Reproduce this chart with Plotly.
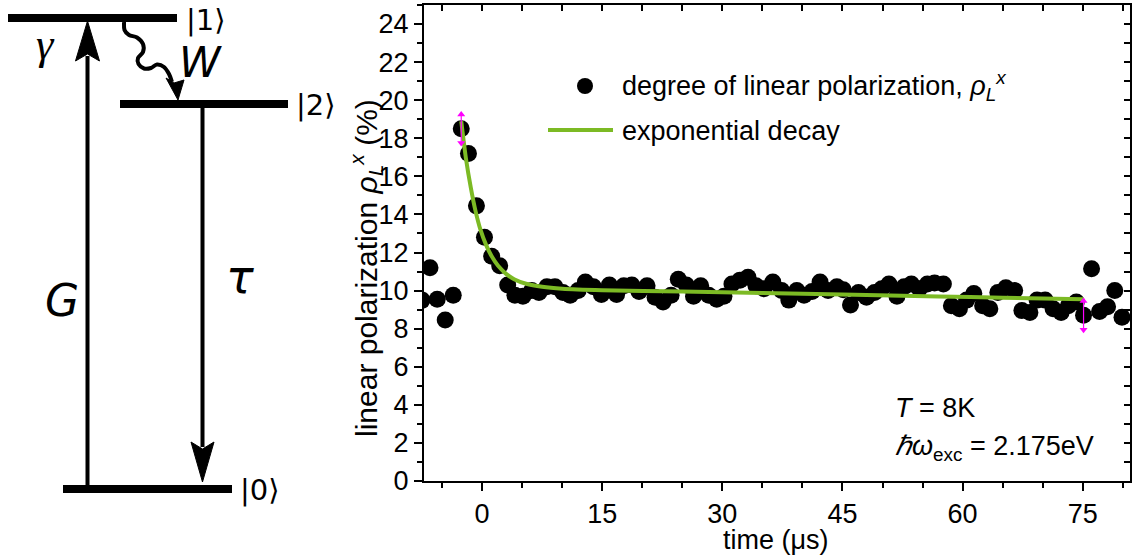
import plotly.graph_objects as go

# ---- measured data: degree of linear polarization vs. time ----
time_us = [-7.5, -6.5, -5.6, -4.6, -3.6, -2.6, -1.7, -0.7, 0.3, 1.2,
           2.2, 3.2, 4.1, 5.1, 6.2, 7.1, 8.1, 9.1, 10.1, 11.0,
           12.0, 12.9, 13.9, 14.9, 15.9, 16.8, 17.7, 18.7, 19.6, 20.6,
           21.6, 22.6, 23.6, 24.5, 25.5, 26.4, 27.3, 28.3, 29.3, 30.2,
           31.2, 32.2, 33.2, 34.2, 35.2, 36.3, 37.4, 38.3, 39.3, 40.2,
           41.2, 42.2, 43.2, 44.3, 45.1, 46.0, 47.0, 48.0, 49.0, 49.9,
           50.8, 51.8, 52.7, 53.6, 54.6, 55.6, 56.5, 57.6, 58.6, 59.6,
           60.5, 61.4, 62.5, 63.4, 64.4, 65.4, 66.5, 67.4, 68.4, 69.3,
           70.3, 71.3, 72.3, 73.2, 74.2, 75.1, 76.1, 77.1, 78.1, 79.0,
           79.9]
polarization = [9.5, 11.2, 9.55, 8.45, 9.75, 18.5, 17.2, 14.45, 12.8, 11.8,
                11.3, 10.3, 9.75, 9.7, 10.0, 9.9, 10.2, 10.2, 9.9, 9.75,
                10.0, 10.45, 10.2, 9.8, 10.3, 9.8, 10.25, 10.3, 9.95, 10.25,
                9.65, 9.4, 9.75, 10.6, 10.3, 9.7, 10.25, 9.75, 9.55, 9.7,
                10.35, 10.55, 10.7, 10.25, 10.1, 10.45, 10.0, 9.5, 10.0, 9.75,
                9.95, 10.45, 10.0, 10.2, 10.05, 9.25, 9.9, 9.65, 9.9, 10.1,
                10.35, 9.7, 10.2, 10.35, 10.1, 10.35, 10.4, 10.35, 9.2, 9.05,
                9.5, 9.85, 9.2, 9.05, 9.9, 10.15, 10.0, 8.95, 8.85, 9.5,
                9.5, 9.05, 8.85, 9.2, 9.4, 8.7, 11.15, 8.9, 9.15, 10.0,
                8.6]

# ---- fitted exponential decay ----
fit_time = [-2.6, -2.0, -1.4, -0.8, -0.2, 0.5, 1.2, 2.0, 3.0, 4.0,
            5.5, 7.5, 10.0, 15.0, 25.0, 35.0, 45.0, 57.0, 65.0, 75.1]
fit_value = [18.9, 16.9, 15.4, 14.15, 13.2, 12.4, 11.8, 11.3, 10.88, 10.6,
             10.36, 10.2, 10.1, 10.02, 9.95, 9.87, 9.8, 9.69, 9.63, 9.55]

# fit range (first and last point used in the fit)
range_time = [-2.6, 75.1]
range_value = [18.5, 8.7]

x_ticks = [0, 15, 30, 45, 60, 75]
y_ticks = [0, 2, 4, 6, 8, 10, 12, 14, 16, 18, 20, 22, 24]
x_range = [-7.25, 80.9]
y_range = [0, 25]

FIG_W, FIG_H = 1138, 559
FONT = "Liberation Sans, Arial, sans-serif"
FS = 27
GREEN = "#7cba24"
MAGENTA = "#ff00ff"


def fx(p):
    """pixel column -> paper x"""
    return p / FIG_W


def fy(p):
    """pixel row -> paper y"""
    return 1 - p / FIG_H


def path(points, close=True):
    s = "M " + " L ".join(f"{fx(x):.5f},{fy(y):.5f}" for x, y in points)
    return s + (" Z" if close else "")


def smooth_path(points):
    """Catmull-Rom curve through the points, written as cubic Beziers."""
    pts = [points[0]] + list(points) + [points[-1]]
    s = "M {:.5f},{:.5f}".format(fx(points[0][0]), fy(points[0][1]))
    for i in range(1, len(pts) - 2):
        p0, p1, p2, p3 = pts[i - 1], pts[i], pts[i + 1], pts[i + 2]
        c1 = (p1[0] + (p2[0] - p0[0]) / 6, p1[1] + (p2[1] - p0[1]) / 6)
        c2 = (p2[0] - (p3[0] - p1[0]) / 6, p2[1] - (p3[1] - p1[1]) / 6)
        s += " C {:.5f},{:.5f} {:.5f},{:.5f} {:.5f},{:.5f}".format(
            fx(c1[0]), fy(c1[1]), fx(c2[0]), fy(c2[1]), fx(p2[0]), fy(p2[1]))
    return s


fig = go.Figure()

fig.add_trace(go.Scatter(
    x=time_us, y=polarization, mode="markers",
    marker=dict(color="black", size=17, line=dict(width=0)),
    showlegend=False, cliponaxis=True))

fig.add_trace(go.Scatter(
    x=fit_time, y=fit_value, mode="lines",
    line=dict(color=GREEN, width=4, shape="spline", smoothing=0.6),
    showlegend=False))

# fit-range markers: thin vertical bar with arrow tips
mark_off = 0.75
for t, v in zip(range_time, range_value):
    fig.add_trace(go.Scatter(
        x=[t, t], y=[v - mark_off, v + mark_off], mode="lines+markers",
        line=dict(color=MAGENTA, width=1.2),
        marker=dict(symbol=["triangle-down", "triangle-up"], size=7,
                    color=MAGENTA),
        showlegend=False))

# helper trace so the mirrored (inside-tick) axes are drawn
fig.add_trace(go.Scatter(x=[None], y=[None], xaxis="x2", yaxis="y2",
                         showlegend=False, hoverinfo="skip"))

x_dom = [fx(424), fx(1130)]
y_dom = [fy(481), fy(5)]

axis_common = dict(showgrid=False, zeroline=False, linecolor="black",
                   linewidth=2, tickcolor="black", tickwidth=1.5,
                   showline=True)

fig.update_layout(
    width=FIG_W, height=FIG_H,
    margin=dict(l=0, r=0, t=0, b=0),
    paper_bgcolor="white", plot_bgcolor="rgba(0,0,0,0)",
    font=dict(family=FONT, color="black", size=FS),
    xaxis=dict(domain=x_dom, range=x_range, anchor="y", tickmode="array",
               tickvals=x_ticks, ticks="outside", ticklen=8,
               minor=dict(dtick=5, tick0=0, ticks="outside", ticklen=5,
                          tickcolor="black", tickwidth=1.5),
               tickfont=dict(size=FS), automargin=False, **axis_common),
    yaxis=dict(domain=y_dom, range=y_range, anchor="x", tickmode="array",
               tickvals=y_ticks, ticks="outside", ticklen=8,
               minor=dict(dtick=1, tick0=0, ticks="outside", ticklen=5,
                          tickcolor="black", tickwidth=1.5),
               tickfont=dict(size=FS), automargin=False, **axis_common),
    xaxis2=dict(domain=x_dom, range=x_range, overlaying="x", side="top",
                anchor="y2", tickmode="array", tickvals=x_ticks,
                ticks="inside", ticklen=6, showticklabels=False,
                minor=dict(dtick=5, tick0=0, ticks="inside", ticklen=6,
                           tickcolor="black", tickwidth=1.5),
                automargin=False, **axis_common),
    yaxis2=dict(domain=y_dom, range=y_range, overlaying="y", side="right",
                anchor="x2", tickmode="array", tickvals=y_ticks,
                ticks="inside", ticklen=6, showticklabels=False,
                minor=dict(dtick=1, tick0=0, ticks="inside", ticklen=6,
                           tickcolor="black", tickwidth=1.5),
                automargin=False, **axis_common),
)

shapes = []
annotations = []

# ---- axis titles ----
annotations.append(dict(
    x=fx(776), y=fy(540), xref="paper", yref="paper", showarrow=False,
    text="time (μs)", font=dict(size=FS), xanchor="center", yanchor="middle"))
annotations.append(dict(
    x=fx(366), y=fy(268), xref="paper", yref="paper", showarrow=False,
    textangle=-90,
    text="linear polarization <i>ρ</i><sub><i>L</i></sub><sup><i>x</i></sup> (%)",
    font=dict(size=30), xanchor="center", yanchor="middle"))

# ---- legend ----
shapes.append(dict(type="circle", xref="paper", yref="paper",
                   x0=fx(577), x1=fx(593), y0=fy(94), y1=fy(78),
                   fillcolor="black", line=dict(width=0)))
shapes.append(dict(type="line", xref="paper", yref="paper",
                   x0=fx(548), x1=fx(613), y0=fy(130), y1=fy(130),
                   line=dict(color=GREEN, width=4)))
annotations.append(dict(
    x=fx(620), y=fy(86), xref="paper", yref="paper", showarrow=False,
    text="degree of linear polarization, <i>ρ</i><sub><i>L</i></sub><sup><i>x</i></sup>",
    font=dict(size=FS), xanchor="left", yanchor="middle"))
annotations.append(dict(
    x=fx(620), y=fy(131), xref="paper", yref="paper", showarrow=False,
    text="exponential decay", font=dict(size=FS),
    xanchor="left", yanchor="middle"))

# ---- experimental conditions ----
annotations.append(dict(
    x=fx(893), y=fy(408), xref="paper", yref="paper", showarrow=False,
    text="<i>T</i> = 8K", font=dict(size=FS), xanchor="left", yanchor="middle"))
annotations.append(dict(
    x=fx(893), y=fy(448), xref="paper", yref="paper", showarrow=False,
    text="<i>ℏω</i><sub>exc</sub> = 2.175eV", font=dict(size=FS),
    xanchor="left", yanchor="middle"))

# ---- three-level scheme ----
def bar(x0, x1, yc, h=8):
    return dict(type="rect", xref="paper", yref="paper",
                x0=fx(x0), x1=fx(x1), y0=fy(yc + h / 2), y1=fy(yc - h / 2),
                fillcolor="black", line=dict(width=0))


shapes += [bar(8, 177, 18), bar(120, 288, 104), bar(63, 232, 489)]

# pumping arrow G (|0> -> |1>)
shapes.append(dict(type="rect", xref="paper", yref="paper",
                   x0=fx(85.5), x1=fx(89.5), y0=fy(485), y1=fy(56),
                   fillcolor="black", line=dict(width=0)))
shapes.append(dict(type="path", xref="paper", yref="paper",
                   path=path([(87.5, 21), (99.5, 61), (87.5, 54), (75.5, 61)]),
                   fillcolor="black", line=dict(color="black", width=1)))

# radiative decay tau (|2> -> |0>)
shapes.append(dict(type="rect", xref="paper", yref="paper",
                   x0=fx(200.5), x1=fx(204.5), y0=fy(447), y1=fy(108),
                   fillcolor="black", line=dict(width=0)))
shapes.append(dict(type="path", xref="paper", yref="paper",
                   path=path([(202.5, 482), (214, 442), (202.5, 449), (191, 442)]),
                   fillcolor="black", line=dict(color="black", width=1)))

# wavy relaxation W (|1> -> |2>)
wavy = [(124, 22), (124.5, 30), (129, 35), (137, 37.5), (143, 44),
        (143, 52), (138, 58), (138.5, 64), (144, 68.5), (151, 68),
        (157, 64.5), (164, 67), (169, 74), (172, 82)]
shapes.append(dict(type="path", xref="paper", yref="paper",
                   path=smooth_path(wavy),
                   line=dict(color="black", width=4)))
shapes.append(dict(type="path", xref="paper", yref="paper",
                   path=path([(178, 100), (166, 78), (174, 83), (184, 80)]),
                   fillcolor="black", line=dict(color="black", width=1)))

scheme_labels = [
    ("|1⟩", 184, 20, 29, "DejaVu Sans", "left"),
    ("|2⟩", 294, 105, 29, "DejaVu Sans", "left"),
    ("|0⟩", 238, 490, 29, "DejaVu Sans", "left"),
    ("<i>γ</i>", 45, 45, 44, "Liberation Serif", "center"),
    ("<i>W</i>", 200, 62, 42, "DejaVu Sans", "center"),
    ("<i>G</i>", 62, 300, 44, "DejaVu Sans", "center"),
    ("<i>τ</i>", 240, 277, 46, "DejaVu Sans", "center"),
]
for txt, x, y, size, fam, anchor in scheme_labels:
    annotations.append(dict(
        x=fx(x), y=fy(y), xref="paper", yref="paper", showarrow=False,
        text=txt, font=dict(size=size, family=fam), xanchor=anchor,
        yanchor="middle"))

fig.update_layout(shapes=shapes, annotations=annotations)

fig.write_html("out.html")
